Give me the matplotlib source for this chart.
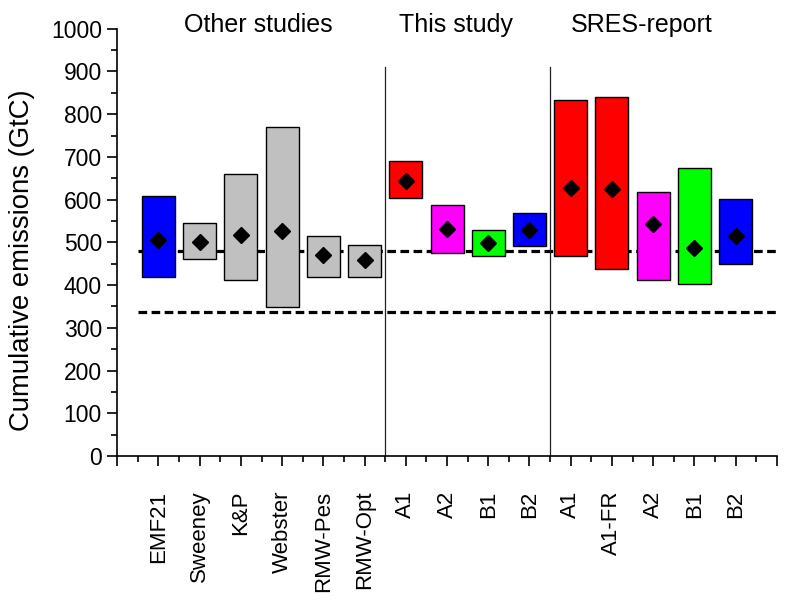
import matplotlib
matplotlib.use("Agg")
import matplotlib.pyplot as plt
from matplotlib.ticker import FixedLocator, MultipleLocator

plt.rcParams['font.family'] = ['Liberation Sans', 'DejaVu Sans']

# Cumulative emission ranges (GtC) per study / scenario
labels = ["EMF21", "Sweeney", "K&P", "Webster", "RMW-Pes", "RMW-Opt",
          "A1", "A2", "B1", "B2",
          "A1", "A1-FR", "A2", "B1", "B2"]
low = [420, 462, 412, 348, 420, 420, 603, 475, 469, 492, 467, 437, 412, 403, 450]
high = [608, 545, 660, 770, 515, 494, 691, 588, 530, 569, 832, 840, 619, 675, 602]
central = [505, 502, 518, 527, 471, 459, 643, 532, 498, 529, 628, 624, 544, 486, 515]
colors = ["#0000FF", "#C0C0C0", "#C0C0C0", "#C0C0C0", "#C0C0C0", "#C0C0C0",
          "#FF0000", "#FF00FF", "#00FF00", "#0000FF",
          "#FF0000", "#FF0000", "#FF00FF", "#00FF00", "#0000FF"]

group_names = ["Other studies", "This study", "SRES-report"]
group_centers = [3.43, 8.22, 12.73]
group_dividers = [6.5, 10.5]
reference_levels = [479, 336]

fig = plt.figure(figsize=(7.87, 6.04), dpi=100)
ax = fig.add_axes([0.149, 0.245, 0.838, 0.7075])

x = list(range(1, len(labels) + 1))

# reference levels
for lvl in reference_levels:
    ax.plot([0.5, 16], [lvl, lvl], color="black", lw=2.3,
            dashes=(2.7, 1.4), zorder=1, dash_capstyle="butt")

# group dividers
for d in group_dividers:
    ax.plot([d, d], [0, 910], color="#222222", lw=0.9, zorder=1)

# floating range bars
heights = [h - l for h, l in zip(high, low)]
ax.bar(x, heights, bottom=low, width=0.8, color=colors,
       edgecolor="black", linewidth=1.0, zorder=2)
ax.plot(x, central, linestyle="none", marker="D", markersize=8.5,
        color="black", zorder=3)

for name, cx in zip(group_names, group_centers):
    ax.text(cx, 993, name, ha="center", va="baseline", fontsize=18,
            clip_on=False)

ax.set_xlim(0, 16)
ax.set_ylim(0, 1000)

ax.xaxis.set_major_locator(FixedLocator(list(range(0, 17))))
ax.set_xticklabels([""] + labels + [""], rotation=90, fontsize=16)
ax.xaxis.set_minor_locator(FixedLocator([i + 0.5 for i in range(16)]))
ax.yaxis.set_major_locator(MultipleLocator(100))
ax.yaxis.set_minor_locator(MultipleLocator(50))
ax.tick_params(axis="y", labelsize=16.5)

ax.tick_params(which="major", direction="out", length=7, width=1.2)
ax.tick_params(which="minor", direction="out", length=4, width=1.2)
ax.tick_params(axis="x", which="major", pad=18)
ax.tick_params(axis="y", which="major", pad=4)

for s in ["top", "right"]:
    ax.spines[s].set_visible(False)
for s in ["left", "bottom"]:
    ax.spines[s].set_linewidth(1.2)

fig.text(22.5 / 787, 1 - 260 / 604, "Cumulative emissions (GtC)",
         rotation=90, ha="center", va="center", fontsize=19.8)

fig.savefig("out.png", dpi=100)
